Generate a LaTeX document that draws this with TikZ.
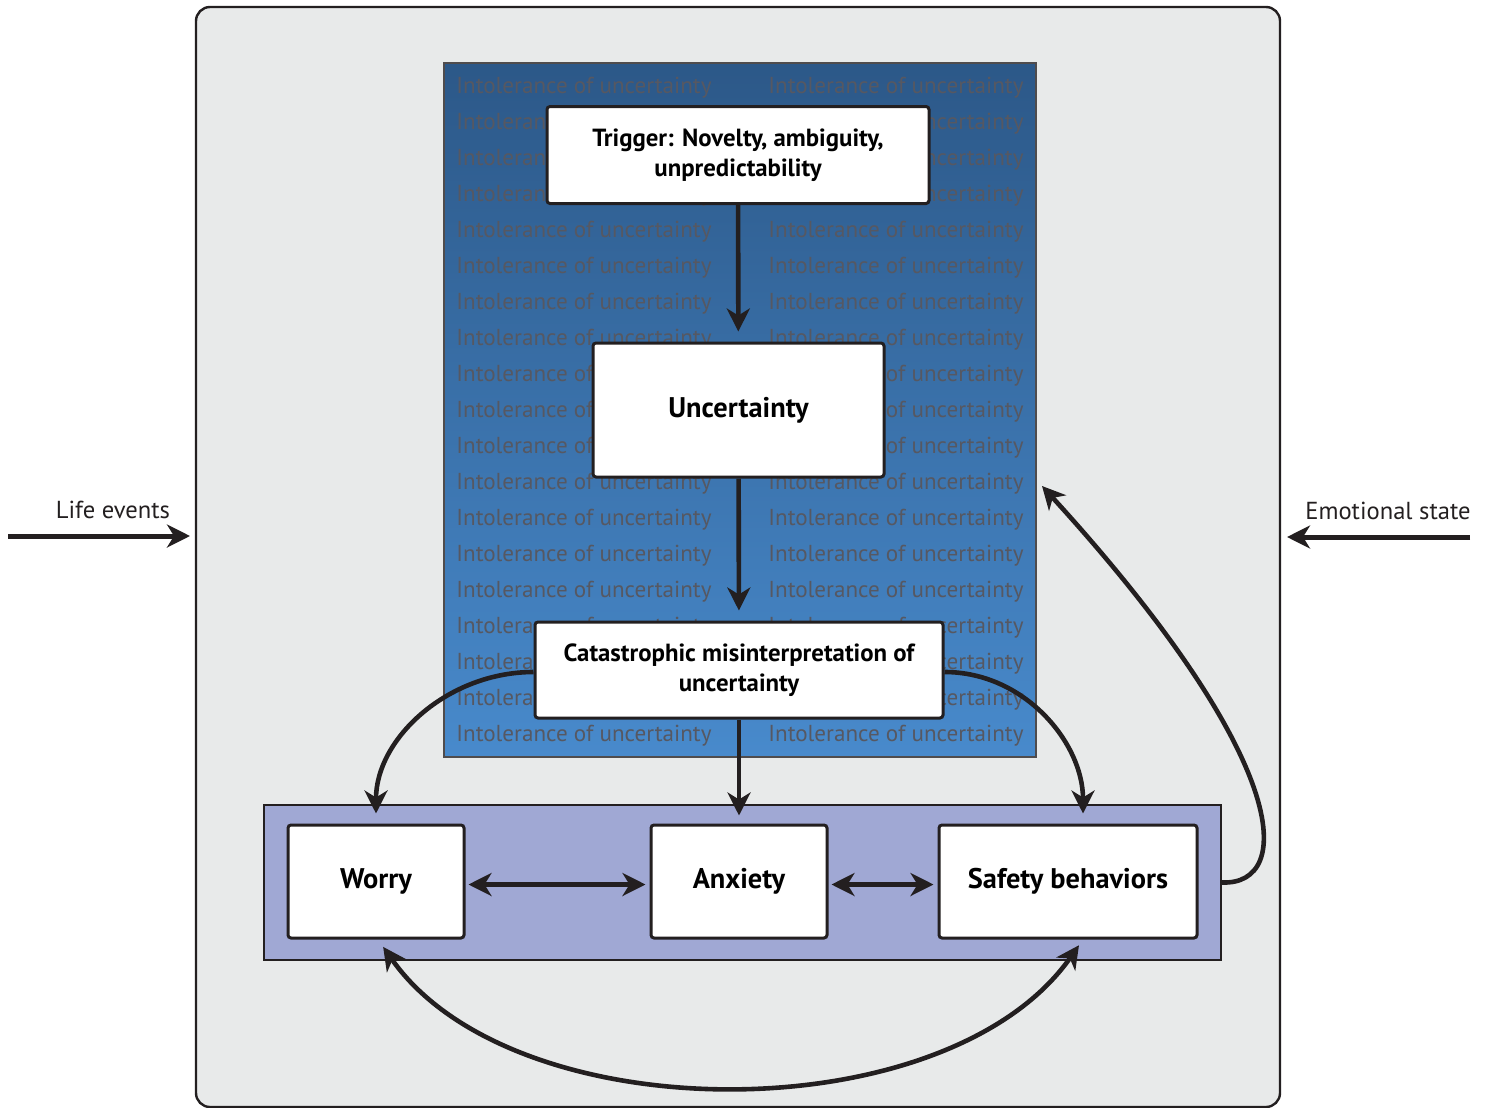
\documentclass[tikz,border=0pt]{standalone}
\usepackage{fontspec}
\setmainfont{PT Sans}
\usetikzlibrary{arrows.meta}
\definecolor{ink}{RGB}{35,31,32}
\definecolor{panel}{RGB}{232,234,234}
\definecolor{bluetop}{RGB}{44,88,136}
\definecolor{bluebot}{RGB}{72,138,204}
\definecolor{band}{RGB}{160,168,212}
\definecolor{iougray}{RGB}{86,88,98}
\tikzset{
  box/.style={draw=ink, line width=1.5pt, fill=white, rounded corners=1.5pt,
    inner sep=0pt, align=center, font=\bfseries\fontsize{12.4}{14.8}\selectfont},
  bigbox/.style={box, font=\bfseries\fontsize{14.2}{16}\selectfont},
  arr/.style={draw=ink, line width=2.3pt, -{Stealth[length=11.5pt,width=11.5pt,inset=3.5pt]}},
  dblarr/.style={arr, {Stealth[length=11.5pt,width=11.5pt,inset=3.5pt]}-{Stealth[length=11.5pt,width=11.5pt,inset=3.5pt]}},
  iou/.style={text=iougray, anchor=west, inner sep=0pt, font=\fontsize{11.55}{12}\selectfont},
  side/.style={text=ink, inner sep=0pt, font=\fontsize{12.3}{13}\selectfont}
}
\begin{document}
\begin{tikzpicture}[x=0.5pt,y=-0.5pt]
\useasboundingbox (0,0) rectangle (1489,1108);
% panel
\draw[ink, line width=1.2pt, fill=panel, rounded corners=7pt] (196,7) rectangle (1280,1107);
% intolerance of uncertainty
\node[draw=ink!80, line width=0.8pt, top color=bluetop, bottom color=bluebot,
  minimum width=296pt, minimum height=347pt, inner sep=0pt] (iou) at (740,410) {};
\foreach \r in {0,...,18}{
  \node[iou] (iouL\r) at (456,88+36*\r) {Intolerance of uncertainty};
  \node[iou] (iouR\r) at (768,88+36*\r) {Intolerance of uncertainty};
}
% band
\node[draw=ink, line width=1.2pt, fill=band, minimum width=478.5pt, minimum height=77.5pt,
  inner sep=0pt] (group) at (742.5,882.5) {};
% boxes
\node[box, minimum width=191pt, minimum height=48.5pt] (trig) at (738,155) {Trigger: Novelty, ambiguity,\\unpredictability};
\node[bigbox, minimum width=145.5pt, minimum height=67pt] (unc) at (738.5,410) {Uncertainty};
\node[box, minimum width=204pt, minimum height=48pt] (cat) at (739,670) {Catastrophic misinterpretation of\\uncertainty};
\node[bigbox, minimum width=88pt, minimum height=56.5pt] (worry) at (376,881.5) {\raisebox{3pt}{Worry}};
\node[bigbox, minimum width=88pt, minimum height=56.5pt] (anx) at (739,881.5) {\raisebox{3pt}{Anxiety}};
\node[bigbox, minimum width=129pt, minimum height=56.5pt] (safe) at (1068,881.5) {Safety behaviors};
% outside
\coordinate (lifeL) at (8,536);
\coordinate (lifeR) at (190,536);
\node[side] (life) at (113,510) {Life events};
\coordinate (emoR) at (1470,537);
\coordinate (emoL) at (1287,537);
\node[side] (emo) at (1388,511) {Emotional state};
\coordinate (fb) at (1042,486);
% connectors
\draw[arr, shorten >=5pt] (trig) -- (unc);
\draw[arr, shorten >=5pt] (unc) -- (cat);
\draw[arr, shorten >=4pt] (cat) -- (anx);
\draw[arr, shorten >=5pt] ([yshift=-1pt]cat.west) to[out=180, in=90] (worry.north);
\draw[arr, shorten >=5pt] ([yshift=-1pt]cat.east) to[out=0, in=90] ([xshift=7.5pt]safe.north);
\draw[dblarr, shorten <=1.5pt, shorten >=2pt] ([yshift=-1.5pt]worry.east) -- ([yshift=-1.5pt]anx.west);
\draw[dblarr, shorten <=1.5pt, shorten >=2pt] ([yshift=-1.5pt]anx.east) -- ([yshift=-1.5pt]safe.west);
\draw[dblarr, shorten <=4.5pt, shorten >=3.5pt] ([xshift=1pt]worry.south) to[out=-55, in=-125, looseness=0.86] ([xshift=7.5pt]safe.south);
\draw[arr] (group.east) .. controls (1295,885) and (1292,760) .. (fb);
\draw[arr, line width=2.5pt] (lifeL) -- (lifeR);
\draw[arr, line width=2.5pt] (emoR) -- (emoL);
\end{tikzpicture}
\end{document}
